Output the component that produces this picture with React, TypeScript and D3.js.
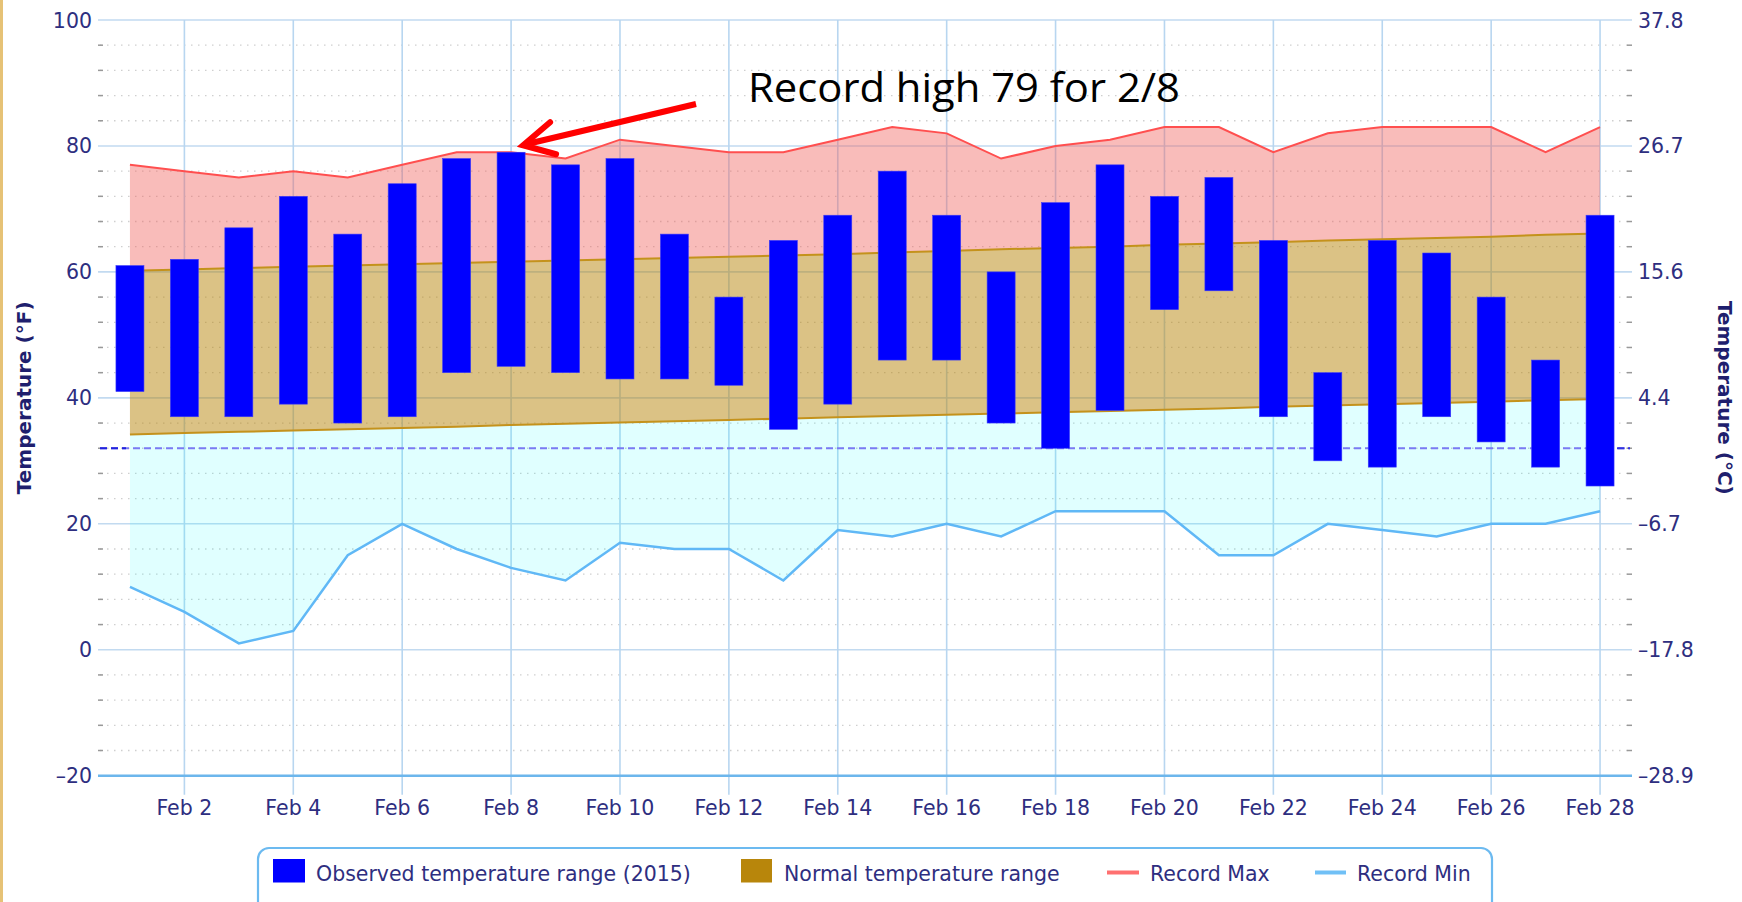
import * as d3 from "d3"

// February day numbers
const days = [1, 2, 3, 4, 5, 6, 7, 8, 9, 10, 11, 12, 13, 14, 15, 16, 17, 18, 19, 20, 21, 22, 23, 24, 25, 26, 27, 28]

// Observed 2015 range (°F)
const obsHigh = [61, 62, 67, 72, 66, 74, 78, 79, 77, 78, 66, 56, 65, 69, 76, 69, 60, 71, 77, 72, 75, 65, 44, 65, 63, 56, 46, 69]
const obsLow = [41, 37, 37, 39, 36, 37, 44, 45, 44, 43, 43, 42, 35, 39, 46, 46, 36, 32, 38, 54, 57, 37, 30, 29, 37, 33, 29, 26]

// Normal range (°F)
const normalHigh = [60.2, 60.4, 60.6, 60.8, 61.0, 61.2, 61.4, 61.6, 61.8, 62.0, 62.2, 62.4, 62.6, 62.8, 63.1, 63.3, 63.6, 63.8, 64.0, 64.3, 64.5, 64.7, 65.0, 65.2, 65.4, 65.6, 65.9, 66.1]
const normalLow = [34.2, 34.4, 34.6, 34.8, 35.0, 35.2, 35.4, 35.7, 35.9, 36.1, 36.3, 36.5, 36.7, 36.9, 37.1, 37.3, 37.5, 37.7, 37.9, 38.1, 38.3, 38.6, 38.8, 39.0, 39.2, 39.4, 39.6, 39.8]

// Records (°F)
const recordMax = [77, 76, 75, 76, 75, 77, 79, 79, 78, 81, 80, 79, 79, 81, 83, 82, 78, 80, 81, 83, 83, 79, 82, 83, 83, 83, 79, 83]
const recordMin = [10, 6, 1, 3, 15, 20, 16, 13, 11, 17, 16, 16, 11, 19, 18, 20, 18, 22, 22, 22, 15, 15, 20, 19, 18, 20, 20, 22]

// Axis ticks
const fTicks = [-20, 0, 20, 40, 60, 80, 100]
const cLabels = ["-28.9", "-17.8", "-6.7", "4.4", "15.6", "26.7", "37.8"]
const xTickDays = [2, 4, 6, 8, 10, 12, 14, 16, 18, 20, 22, 24, 26, 28]
const freezing = 32

const labelColor = "#2e2e80"
const titleColor = "#1f1f6e"
const font = "'DejaVu Sans', Verdana, sans-serif"

const App = () => {
  const width = 1742
  const height = 902
  const plot = { left: 100, right: 1630, top: 20, bottom: 775.7 }

  const x = d3.scaleLinear().domain([0.45, 28.55]).range([plot.left, plot.right])
  const y = d3.scaleLinear().domain([-20, 100]).range([plot.bottom, plot.top])

  const minorTicks = d3.range(-20, 100, 4).filter((v) => v % 20 !== 0)

  const band = (lo: number[], hi: number[]) =>
    d3
      .area<number>()
      .x((d) => x(d))
      .y0((_, i) => y(lo[i]))
      .y1((_, i) => y(hi[i]))(days) || ""

  const line = (vals: number[]) =>
    d3
      .line<number>()
      .x((d) => x(d))
      .y((_, i) => y(vals[i]))(days) || ""

  const barW = 28

  // annotation anchored to the Feb 8 record
  const tipX = x(8) + 12
  const tipY = y(79) - 7

  return (
    <div style={{ position: "absolute", left: 0, top: 0 }}>
      <svg width={width} height={height} style={{ display: "block", background: "#fff" }}>
        <rect x={0} y={0} width={3} height={height} fill="#e6c276" />

        {/* minor dotted grid */}
        {minorTicks.map((v) => (
          <g key={`mn${v}`}>
            <line x1={plot.left} x2={plot.right} y1={y(v)} y2={y(v)} stroke="#cfcfcf" strokeWidth={1.3} strokeDasharray="1.5,5.5" />
            <line x1={plot.left - 2} x2={plot.left + 3} y1={y(v)} y2={y(v)} stroke="#999" strokeWidth={1.5} />
            <line x1={plot.right - 3} x2={plot.right + 2} y1={y(v)} y2={y(v)} stroke="#999" strokeWidth={1.5} />
          </g>
        ))}

        {/* major grid */}
        {fTicks.map((v) => (
          <line key={`mj${v}`} x1={plot.left - 2} x2={plot.right + 2} y1={y(v)} y2={y(v)} stroke="#c2daf0" strokeWidth={1.6} />
        ))}
        {xTickDays.map((d) => (
          <line key={`vg${d}`} x1={x(d)} x2={x(d)} y1={plot.top} y2={plot.bottom + 19} stroke="#b8d6f0" strokeWidth={1.6} />
        ))}

        {/* areas */}
        <path d={band(recordMin, normalLow)} fill="#00ffff" fillOpacity={0.12} />
        <path d={band(normalLow, normalHigh)} fill="#b8860b" fillOpacity={0.5} />
        <path d={band(normalHigh, recordMax)} fill="#f0605a" fillOpacity={0.42} />
        <path d={line(normalHigh)} fill="none" stroke="#c4921c" strokeWidth={2} />
        <path d={line(normalLow)} fill="none" stroke="#c4921c" strokeWidth={2} />
        <path d={line(recordMax)} fill="none" stroke="#ff4f4f" strokeWidth={2} />
        <path d={line(recordMin)} fill="none" stroke="#60b8f6" strokeWidth={2.5} />

        {/* freezing line */}
        <line x1={plot.left} x2={plot.right} y1={y(freezing)} y2={y(freezing)} stroke="#7a7af4" strokeWidth={2} strokeDasharray="7,4" />
        <line x1={plot.left} x2={plot.left + 26} y1={y(freezing)} y2={y(freezing)} stroke="#2222dd" strokeWidth={2} strokeDasharray="7,4" />
        <line x1={plot.right - 24} x2={plot.right} y1={y(freezing)} y2={y(freezing)} stroke="#3333e0" strokeWidth={2} strokeDasharray="7,4" />

        {/* observed bars */}
        {days.map((d, i) => (
          <rect
            key={`b${d}`}
            x={x(d) - barW / 2}
            y={y(obsHigh[i])}
            width={barW}
            height={y(obsLow[i]) - y(obsHigh[i])}
            fill="#0000ff"
            stroke="#3a3af8"
            strokeWidth={0.6}
          />
        ))}

        {/* x axis line */}
        <line x1={plot.left - 2} x2={plot.right + 2} y1={plot.bottom} y2={plot.bottom} stroke="#6cb6ec" strokeWidth={2.5} />

        {/* axis labels */}
        {fTicks.map((v) => (
          <text key={`fl${v}`} x={92} y={y(v) + 7.5} textAnchor="end" fontFamily={font} fontSize={20.5} fill={labelColor}>
            {v < 0 ? `\u2013${-v}` : v}
          </text>
        ))}
        {fTicks.map((v, i) => (
          <text key={`cl${v}`} x={1638} y={y(v) + 7.5} textAnchor="start" fontFamily={font} fontSize={20.5} fill={labelColor}>
            {cLabels[i].replace("-", "\u2013")}
          </text>
        ))}
        {xTickDays.map((d) => (
          <text key={`xl${d}`} x={x(d)} y={815} textAnchor="middle" fontFamily={font} fontSize={20.5} fill={labelColor}>
            {`Feb ${d}`}
          </text>
        ))}

        {/* axis titles */}
        <text
          transform={`translate(31, ${(plot.top + plot.bottom) / 2}) rotate(-90)`}
          textAnchor="middle"
          fontFamily={font}
          fontWeight="bold"
          fontSize={20}
          fill={titleColor}
        >
          Temperature (°F)
        </text>
        <text
          transform={`translate(1718, ${(plot.top + plot.bottom) / 2}) rotate(90)`}
          textAnchor="middle"
          fontFamily={font}
          fontWeight="bold"
          fontSize={20}
          fill={titleColor}
        >
          Temperature (°C)
        </text>

        {/* legend */}
        <rect x={258} y={848} width={1234} height={70} rx={11} fill="#fff" stroke="#6cbaf0" strokeWidth={2.2} />
        <rect x={273} y={859} width={32} height={23.5} fill="#0000ff" />
        <text x={316} y={881} fontFamily={font} fontSize={20.5} fill={labelColor}>
          Observed temperature range (2015)
        </text>
        <rect x={741} y={859} width={31} height={23.5} fill="#b8860b" />
        <text x={784} y={881} fontFamily={font} fontSize={20.5} fill={labelColor}>
          Normal temperature range
        </text>
        <line x1={1107} x2={1139} y1={872.5} y2={872.5} stroke="#ff7070" strokeWidth={4} />
        <text x={1150} y={881} fontFamily={font} fontSize={20.5} fill={labelColor}>
          Record Max
        </text>
        <line x1={1315} x2={1346} y1={872.5} y2={872.5} stroke="#70c0f6" strokeWidth={4} />
        <text x={1357} y={881} fontFamily={font} fontSize={20.5} fill={labelColor}>
          Record Min
        </text>

        {/* annotation */}
        <line x1={696} y1={104} x2={tipX + 3} y2={tipY - 1} stroke="#ff0000" strokeWidth={6} />
        <path
          d={`M${tipX + 27},${tipY - 23} L${tipX},${tipY} L${tipX + 33},${tipY + 9}`}
          fill="none"
          stroke="#ff0000"
          strokeWidth={6}
          strokeLinejoin="miter"
          strokeLinecap="round"
        />
        <text
          x={748}
          y={102}
          fontFamily="'Open Sans', 'Liberation Sans', sans-serif"
          fontSize={40}
          fill="#000"
          textLength={432}
          lengthAdjust="spacingAndGlyphs"
        >
          Record high 79 for 2/8
        </text>
      </svg>
    </div>
  )
}

export default App
